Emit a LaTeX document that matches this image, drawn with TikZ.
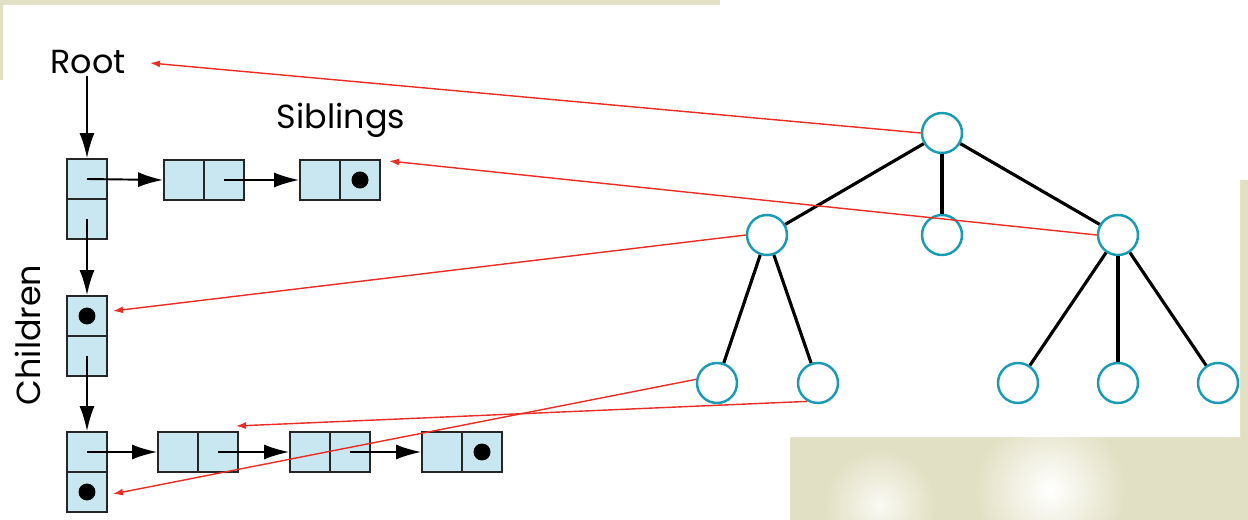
\documentclass[tikz,border=0pt]{standalone}
\usepackage{fontspec}
\setmainfont{Poppins}
\usetikzlibrary{arrows.meta}
\definecolor{cellblue}{RGB}{200,231,241}
\definecolor{ringblue}{RGB}{25,155,180}
\definecolor{slidebg}{RGB}{226,224,196}
\definecolor{linkred}{RGB}{236,45,35}

\begin{document}
\begin{tikzpicture}[x=0.02cm, y=-0.02cm,
  cell/.style={draw=black!85, line width=1pt, fill=cellblue, minimum size=0.8cm, inner sep=0pt},
  treenode/.style={circle, draw=ringblue, line width=1.4pt, fill=white, minimum size=0.8cm, inner sep=0pt},
  caption/.style={font=\fontsize{19}{22}\selectfont, inner sep=1pt},
  ptr/.style={-{Latex[length=0.5cm, width=0.3cm]}, line width=1.1pt},
  link/.style={-{Latex[length=0.2cm, width=0.14cm]}, draw=linkred, line width=0.8pt},
  branch/.style={line width=1.8pt}]
  \useasboundingbox (0,0) rectangle (1248,520);
  % slide background
  \fill[slidebg] (0,0) rectangle (1248,520);
  \shade[inner color=white, outer color=slidebg] (1050,490) circle (75);
  \shade[inner color=white!80!slidebg, outer color=slidebg] (880,505) circle (55);
  \fill[white] (3,5) -- (720,5) -- (720,0) -- (1248,0) -- (1248,180) -- (1240,180)
    -- (1240,437) -- (790,437) -- (790,520) -- (0,520) -- (0,80) -- (3,80) -- cycle;

  % labels
  \node [caption] (root) at (88,62) {Root};
  \node [caption] (siblings) at (341,120) {Siblings};
  \node [caption, rotate=90] (children) at (28,335) {Children};

  % list cells
  \node [cell] (r1) at (87,179) {};
  \node [cell] (r2) at (87,219) {};
  \node [cell] (s1a) at (184,180) {};
  \node [cell] (s1b) at (224,180) {};
  \node [cell] (s2a) at (320,180) {};
  \node [cell] (s2b) at (360,180) {};
  \node [cell] (c1) at (87,316) {};
  \node [cell] (c2) at (87,356) {};
  \node [cell] (d1) at (87,452) {};
  \node [cell] (d2) at (87,492) {};
  \node [cell] (g1a) at (178,452) {};
  \node [cell] (g1b) at (218,452) {};
  \node [cell] (g2a) at (310,452) {};
  \node [cell] (g2b) at (350,452) {};
  \node [cell] (g3a) at (442,452) {};
  \node [cell] (g3b) at (482,452) {};

  % null pointers
  \fill (s2b) circle (0.17cm);
  \fill (c1) circle (0.17cm);
  \fill (d2) circle (0.17cm);
  \fill (g3b) circle (0.17cm);

  % pointers
  \draw [ptr] (root.south -| r1) -- (r1.north);
  \draw [ptr] (r1.center) -- (s1a.west);
  \draw [ptr] (s1b.center) -- (s2a.west);
  \draw [ptr] (r2.center) -- (c1.north);
  \draw [ptr] (c2.center) -- (d1.north);
  \draw [ptr] (d1.center) -- (g1a.west);
  \draw [ptr] (g1b.center) -- (g2a.west);
  \draw [ptr] (g2b.center) -- (g3a.west);

  % tree
  \node [treenode] (n0) at (942,133) {};
  \node [treenode] (nA) at (767,235) {};
  \node [treenode] (nB) at (942,235) {};
  \node [treenode] (nC) at (1118,235) {};
  \node [treenode] (nA1) at (717,383) {};
  \node [treenode] (nA2) at (818,383) {};
  \node [treenode] (nC1) at (1018,383) {};
  \node [treenode] (nC2) at (1118,383) {};
  \node [treenode] (nC3) at (1218,383) {};
  \draw [branch] (n0) -- (nA);
  \draw [branch] (n0) -- (nB);
  \draw [branch] (n0) -- (nC);
  \draw [branch] (nA) -- (nA1);
  \draw [branch] (nA) -- (nA2);
  \draw [branch] (nC) -- (nC1);
  \draw [branch] (nC) -- (nC2);
  \draw [branch] (nC) -- (nC3);

  % correspondence
  \coordinate (toroot) at (150,63);
  \coordinate (tosib) at (389,161);
  \coordinate (tochild) at (113,311);
  \coordinate (torow) at (236,426);
  \coordinate (tolast) at (113,494);
  \draw [link] (n0.west) -- (toroot);
  \draw [link] (nC.west) -- (tosib);
  \draw [link] (nA.west) -- (tochild);
  \draw [link] (nA2.240) -- (torow);
  \draw [link] (nA1.170) -- (tolast);
\end{tikzpicture}
\end{document}
